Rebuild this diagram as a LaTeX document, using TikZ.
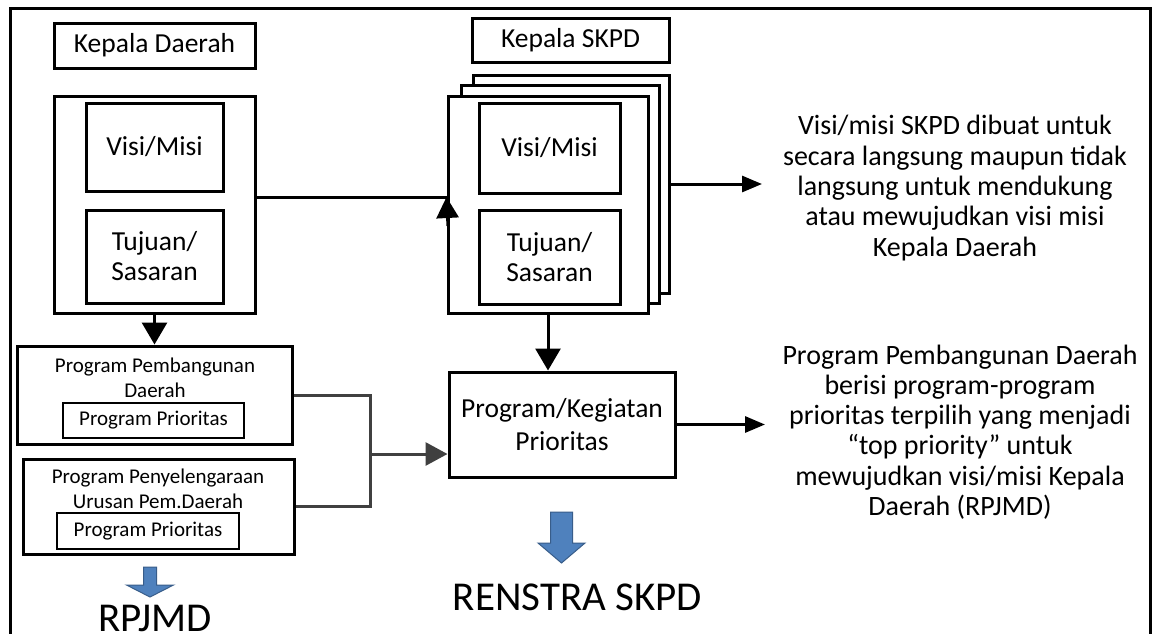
\documentclass[tikz,border=0pt]{standalone}
\usepackage{fontspec}
\setmainfont{Carlito}
\usetikzlibrary{arrows.meta}
\definecolor{gline}{RGB}{64,64,64}
\definecolor{bfill}{RGB}{79,129,189}
\definecolor{bedge}{RGB}{56,93,138}
\begin{document}
\begin{tikzpicture}[x=1pt,y=-1pt,
  bx/.style={draw,line width=3pt,inner sep=0pt,fill=white},
  ib/.style={draw,line width=1.5pt,inner sep=0pt},
  mtxt/.style={font=\fontsize{27.5}{30}\selectfont,align=center},
  ktxt/.style={font=\fontsize{27.5}{33}\selectfont,align=center},
  stxt/.style={font=\fontsize{21}{25}\selectfont,align=center,inner sep=0pt},
  rtxt/.style={font=\fontsize{28}{30.3}\selectfont,align=center,inner sep=0pt},
  btxt/.style={font=\fontsize{41}{45}\selectfont,inner sep=0pt},
  conn/.style={line width=3pt},
  arrB/.style={-{Triangle[width=25pt,length=22pt]}},
  arrU/.style={-{Triangle[width=22pt,length=21pt]}},
  arrR/.style={-{Triangle[width=16pt,length=20pt]}},
  gconn/.style={draw=gline,line width=3pt},
  arrG/.style={-{Triangle[width=23pt,length=22pt]}},
  blue/.style={fill=bfill,draw=bedge,line width=1pt,line join=miter}
]
\useasboundingbox (0,0) rectangle (1156,633);
\fill[white] (0,0) rectangle (1156,633);
% outer frame
\draw[line width=3pt] (10,645) -- (10,8) -- (1150,8) -- (1150,645);

% left column
\node[bx,mtxt,minimum width=201pt,minimum height=45pt] (kd) at (154.5,45.5) {Kepala Daerah};
\node[bx,minimum width=201pt,minimum height=217pt] (lbox) at (154.5,204.5) {};
\node[bx,mtxt,minimum width=137pt,minimum height=88pt] (lvisi) at (154.5,147) {Visi/Misi};
\node[bx,mtxt,minimum width=137pt,minimum height=93pt] (ltuj) at (154.5,256.5) {Tujuan/\\Sasaran};

% middle column: stacked pages
\node[bx,mtxt,minimum width=197pt,minimum height=44pt] (kskpd) at (570.5,40) {Kepala SKPD};
\node[bx,minimum width=196pt,minimum height=218pt] (page3) at (571,184) {};
\node[bx,minimum width=198pt,minimum height=218pt] (page2) at (560,194) {};
\node[bx,minimum width=200pt,minimum height=217pt] (page1) at (548,204.5) {};
\node[bx,mtxt,minimum width=141pt,minimum height=90pt] (rvisi) at (549.5,148) {Visi/Misi};
\node[bx,mtxt,minimum width=141pt,minimum height=94pt] (rtuj) at (549.5,257) {Tujuan/\\Sasaran};

% program boxes
\node[bx,minimum width=275pt,minimum height=98pt] (ppd) at (154.5,395) {};
\node[stxt,anchor=north] (ppdt) at (155,358) {Program Pembangunan\\Daerah};
\node[ib,stxt,minimum width=181pt,minimum height=35pt] (pp1) at (153.5,420.5) {Program Prioritas};
\node[bx,minimum width=271pt,minimum height=95pt] (ppu) at (158.5,506.5) {};
\node[stxt,anchor=north] (ppus) at (158,469) {Program Penyelengaraan\\Urusan Pem.Daerah};
\node[ib,stxt,minimum width=182pt,minimum height=36pt] (pp2) at (148,531) {Program Prioritas};
\node[bx,ktxt,minimum width=226pt,minimum height=105pt] (pk) at (562,424.5) {Program/Kegiatan\\Prioritas};

% right texts
\node[rtxt] (t1txt) at (955,188) {Visi/misi SKPD dibuat untuk\\secara langsung maupun tidak\\langsung untuk mendukung\\atau mewujudkan visi misi\\Kepala Daerah};
\node[rtxt] (t2txt) at (960,432) {Program Pembangunan Daerah\\berisi program-program\\prioritas terpilih yang menjadi\\“top priority” untuk\\mewujudkan visi/misi Kepala\\Daerah (RPJMD)};

% bottom labels
\node[btxt,anchor=base] (rpjmd) at (155,631) {RPJMD};
\node[btxt,anchor=base] (renstra) at (577.5,610) {RENSTRA SKPD};

% coordinates
\coordinate (y197) at (0,197);
\coordinate (upstart) at (448,226);
\coordinate (t1) at (762,184);
\coordinate (t2) at (765,424.5);
\coordinate (gm) at (370,454);

% connectors
\draw[conn] (lbox.east |- y197) -- (page1.west |- y197);
\draw[conn,arrU] (upstart) -- (page1.west |- y197);
\draw[conn,arrB] (lbox.south) -- (ppd.north);
\draw[conn,arrB] (page1.south) -- (page1.south |- pk.north);
\draw[conn,arrR] (page3.east) -- (t1);
\draw[conn,arrR] (pk.east) -- (t2);
\draw[gconn] (ppd.east) -- (gm |- ppd.east) -- (gm |- ppu.east) -- (ppu.east);
\draw[gconn,arrG] (gm) -- (pk.west |- gm);

% blue block arrows
\draw[blue] (143.5,567) -- (156.5,567) -- (156.5,585) -- (173.5,585) -- (150,597) -- (126.5,585) -- (143.5,585) -- cycle;
\draw[blue] (550.5,512) -- (572.5,512) -- (572.5,543) -- (585,543) -- (561.5,563) -- (538,543) -- (550.5,543) -- cycle;
\end{tikzpicture}
\end{document}
